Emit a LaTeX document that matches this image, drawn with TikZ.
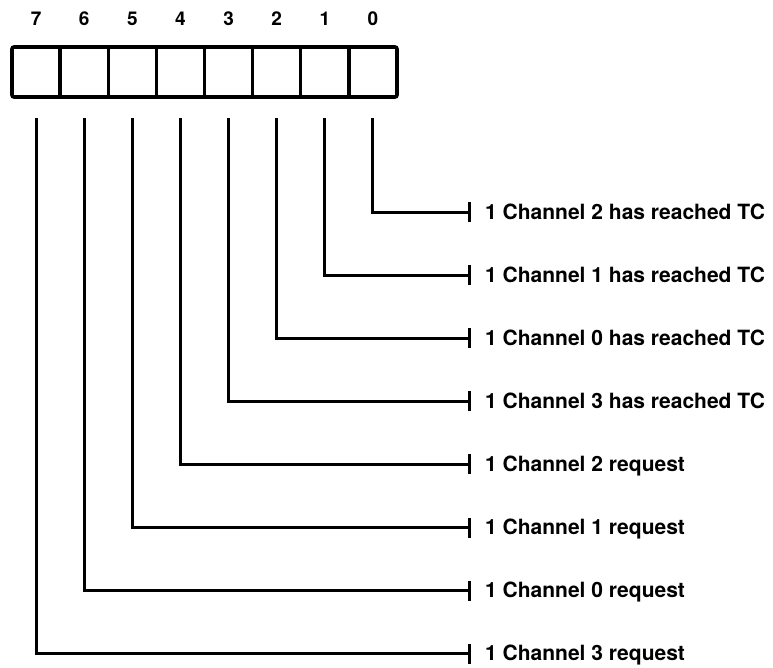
\documentclass[tikz,border=0pt]{standalone}
\usepackage{fontspec}
\setmainfont{TeX Gyre Heros}
\begin{document}
\begin{tikzpicture}[x=1pt,y=-1pt,
  bitnum/.style={font=\fontsize{19}{19}\selectfont\bfseries,anchor=center,inner sep=0pt},
  lbl/.style={font=\fontsize{21}{21}\selectfont\bfseries,anchor=base west,inner sep=0pt},
  conn/.style={line width=3pt,line cap=butt,line join=miter},
  tick/.style={line width=3pt}]
\useasboundingbox (0,0) rectangle (773,667);
% register box
\draw[line width=3.6pt,rounded corners=2pt] (12,47) rectangle (397,97);
\foreach \i in {1,...,7}{
  \draw[line width=3.4pt] ({12+48.125*\i},47) -- ({12+48.125*\i},97);
}
% bit numbers and connectors
\foreach \b/\t in {0/1 Channel 2 has reached TC,
                   1/1 Channel 1 has reached TC,
                   2/1 Channel 0 has reached TC,
                   3/1 Channel 3 has reached TC,
                   4/1 Channel 2 request,
                   5/1 Channel 1 request,
                   6/1 Channel 0 request,
                   7/1 Channel 3 request}{
  \pgfmathsetmacro{\cx}{12+24.06+48.125*(7-\b)}
  \pgfmathsetmacro{\ly}{212+63.1*\b}
  \node[bitnum] (n\b) at (\cx,19) {\b};
  \coordinate (s\b) at (\cx,118);
  \coordinate (e\b) at (469,\ly);
  \node[lbl] (t\b) at (485,\ly+7.2) {\t};
  \draw[conn] (s\b) |- (e\b);
  \draw[tick] ([yshift=-10pt]e\b) -- ([yshift=10pt]e\b);
}
\end{tikzpicture}
\end{document}
